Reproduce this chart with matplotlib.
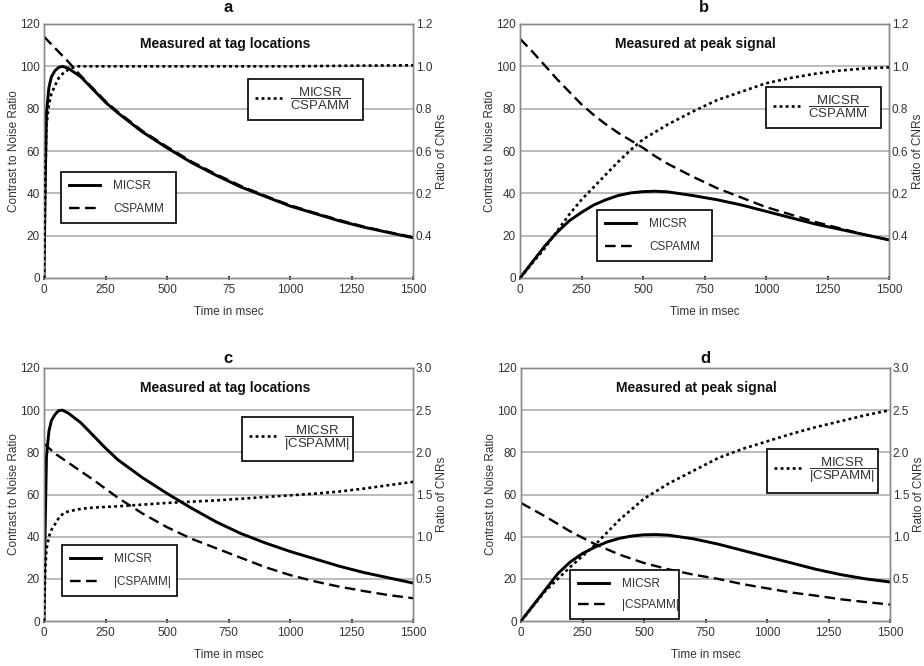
import matplotlib
matplotlib.use("Agg")
import matplotlib.pyplot as plt
from matplotlib.lines import Line2D

plt.rcParams['font.family'] = ['Liberation Sans', 'DejaVu Sans']
plt.rcParams['mathtext.fontset'] = 'custom'
plt.rcParams['mathtext.rm'] = 'Liberation Sans'
plt.rcParams['mathtext.it'] = 'Liberation Sans'
plt.rcParams['mathtext.bf'] = 'Liberation Sans:bold'

# ---------------- data ----------------
# Panel a: measured at tag locations
t_micsr_a = [0, 5, 10, 20, 30, 45, 60, 75, 100, 150, 200, 250, 300, 400, 500, 600, 700, 800, 900, 1000, 1100, 1200, 1300, 1400, 1500]
micsr_a = [0, 45, 78, 90, 95, 98, 99.5, 100, 99, 95, 89, 83, 78, 69, 61.5, 54.5, 48.5, 43, 38.5, 34, 30.5, 27, 24, 21.5, 19]
t_cspamm_a = [0, 50, 100, 146, 200, 250, 300, 400, 500, 600, 700, 800, 900, 1000, 1100, 1200, 1300, 1400, 1500]
cspamm_a = [114, 108, 102, 96, 89.5, 83.5, 78.5, 69.5, 62, 55, 49, 43.5, 38.8, 34.4, 30.8, 27.4, 24.3, 21.7, 19.3]
t_ratio_a = [0, 5, 10, 20, 30, 45, 60, 80, 100, 130, 250, 500, 750, 1000, 1250, 1500]
ratio_a = [0, 0.45, 0.72, 0.82, 0.87, 0.91, 0.945, 0.97, 0.985, 1.0, 1.0, 1.0, 1.0, 1.0, 1.003, 1.005]

# Panel b: measured at peak signal
t_b = [0, 50, 100, 150, 200, 250, 300, 350, 400, 450, 500, 550, 600, 700, 800, 900, 1000, 1100, 1200, 1300, 1400, 1500]
micsr_b = [0, 7.5, 15, 21.5, 27, 31, 34.5, 37, 39, 40.2, 40.8, 41, 40.7, 39, 37, 34.5, 31.5, 28.5, 25.5, 23, 20.5, 18]
cspamm_b = [113, 107, 100.5, 94, 88, 82, 77, 72.5, 68.5, 65, 61.5, 57.5, 54, 48, 42.5, 38, 33.5, 30, 26.5, 23.5, 20.5, 18]
ratio_b = [0, 0.07, 0.14, 0.22, 0.3, 0.37, 0.43, 0.49, 0.55, 0.605, 0.655, 0.69, 0.725, 0.785, 0.84, 0.88, 0.92, 0.945, 0.965, 0.98, 0.99, 0.995]

# Panel c: measured at tag locations (magnitude)
micsr_c = [0, 45, 78, 90, 95, 98, 99.8, 100, 98.5, 94, 88, 82, 76.5, 68, 60.5, 53.5, 47, 41.5, 37, 33, 29.5, 26, 23, 20.5, 18]
t_cspamm_c = [0, 50, 100, 200, 300, 400, 500, 600, 700, 800, 900, 1000, 1100, 1200, 1300, 1400, 1500]
cspamm_c = [84, 79, 75, 67, 58.5, 51, 44.5, 39, 34.5, 30, 25.5, 21.8, 18.8, 16.3, 14.2, 12.3, 10.8]
t_ratio_c = [0, 5, 10, 20, 30, 45, 60, 80, 100, 150, 200, 300, 400, 500, 600, 700, 800, 900, 1000, 1100, 1200, 1300, 1400, 1500]
ratio_c = [0, 0.6, 0.85, 1.0, 1.08, 1.15, 1.22, 1.28, 1.3, 1.33, 1.345, 1.36, 1.38, 1.4, 1.415, 1.43, 1.45, 1.47, 1.49, 1.51, 1.535, 1.57, 1.61, 1.65]

# Panel d: measured at peak signal (magnitude)
micsr_d = [0, 7.5, 15, 22.5, 28, 32, 35, 37.5, 39.2, 40.3, 40.9, 41, 40.7, 39, 36.5, 33.5, 30.5, 27.5, 24.5, 22, 20, 18.5]
t_cspamm_d = [0, 100, 200, 250, 300, 400, 500, 600, 700, 800, 900, 1000, 1100, 1200, 1300, 1400, 1500]
cspamm_d = [56, 49.5, 42.5, 39.5, 36.5, 31.5, 27.5, 24.5, 22, 20, 17.5, 15.5, 13.5, 12, 10.3, 9, 7.8]
t_ratio_d = [0, 100, 200, 300, 400, 500, 600, 700, 800, 900, 1000, 1100, 1200, 1300, 1400, 1500]
ratio_d = [0, 0.36, 0.64, 0.9, 1.2, 1.45, 1.63, 1.78, 1.93, 2.04, 2.13, 2.22, 2.3, 2.37, 2.44, 2.5]

x_ticks = [0, 250, 500, 750, 1000, 1250, 1500]
x_labels_a = ["0", "250", "500", "75", "1000", "1250", "1500"]
x_labels = ["0", "250", "500", "750", "1000", "1250", "1500"]
left_ticks = [0, 20, 40, 60, 80, 100, 120]
right_ticks_ab = [0.2, 0.4, 0.6, 0.8, 1.0, 1.2]
right_labels_ab = ["0.4", "0.2", "0.6", "0.8", "1.0", "1.2"]
right_ticks_cd = [0.5, 1.0, 1.5, 2.0, 2.5, 3.0]
right_labels_cd = ["0.5", "1.0", "1.5", "2.0", "2.5", "3.0"]

panel_letters = ["a", "b", "c", "d"]
inner_titles = ["Measured at tag locations", "Measured at peak signal",
                "Measured at tag locations", "Measured at peak signal"]
ratio_labels = [r"$\dfrac{\mathrm{MICSR}}{\mathrm{CSPAMM}}$", r"$\dfrac{\mathrm{MICSR}}{\mathrm{CSPAMM}}$",
                r"$\dfrac{\mathrm{MICSR}}{|\mathrm{CSPAMM}|}$", r"$\dfrac{\mathrm{MICSR}}{|\mathrm{CSPAMM}|}$"]
cspamm_labels = ["CSPAMM", "CSPAMM", "|CSPAMM|", "|CSPAMM|"]

# ---------------- layout ----------------
fig = plt.figure(figsize=(9.24, 6.66), dpi=100)
positions = [
    [44 / 924, 1 - 278 / 666, 369 / 924, 254 / 666],
    [520 / 924, 1 - 278 / 666, 369 / 924, 254 / 666],
    [44 / 924, 1 - 621 / 666, 369 / 924, 253 / 666],
    [521 / 924, 1 - 621 / 666, 369 / 924, 253 / 666],
]
letter_y = [1 + 12 / 254, 1 + 12 / 254, 1 + 5 / 253, 1 + 5 / 253]
title_x = [0.49, 0.474, 0.49, 0.474]
legend_left = [(0.046, 0.417), (0.209, 0.268), (0.049, 0.300), (0.133, 0.202)]
legend_left_w = [0.312, 0.311, 0.311, 0.295]
legend_left_sp = [0.9, 0.9, 0.9, 0.75]
legend_right = [(0.553, 0.783), (0.667, 0.752), (0.537, 0.806), (0.667, 0.680)]
legend_right_w = [0.311, 0.311, 0.300, 0.300]

series = [
    (t_micsr_a, micsr_a, t_cspamm_a, cspamm_a, t_ratio_a, ratio_a, 1.2),
    (t_b, micsr_b, t_b, cspamm_b, t_b, ratio_b, 1.2),
    (t_micsr_a, micsr_c, t_cspamm_c, cspamm_c, t_ratio_c, ratio_c, 3.0),
    (t_b, micsr_d, t_cspamm_d, cspamm_d, t_ratio_d, ratio_d, 3.0),
]

GRID = "#a8a8a8"
SPINE = "#888888"
TXT = "#333333"

for i in range(4):
    tm, m, tc, c, tr, r, rmax = series[i]
    ax = fig.add_axes(positions[i])
    ax2 = ax.twinx()
    ax.set_zorder(1)
    ax2.set_zorder(2)
    ax.set_xlim(0, 1500)
    ax.set_ylim(0, 120)
    ax2.set_ylim(0, rmax)

    for yv in [20, 40, 60, 80, 100]:
        ax.axhline(yv, color=GRID, lw=1.1, zorder=0)

    ax.plot(tm, m, color="black", lw=2.1, solid_capstyle="butt", zorder=3)
    ax.plot(tc, c, color="black", lw=1.7, dashes=(4.5, 2.3), zorder=3)
    ax2.plot(tr, r, color="black", lw=1.9, dashes=(1.1, 1.2), zorder=3)

    ax.set_xticks(x_ticks)
    ax.set_xticklabels(x_labels_a if i == 0 else x_labels)
    ax.set_yticks(left_ticks)
    if i < 2:
        ax2.set_yticks(right_ticks_ab)
        ax2.set_yticklabels(right_labels_ab)
    else:
        ax2.set_yticks(right_ticks_cd)
        ax2.set_yticklabels(right_labels_cd)

    ax.tick_params(axis="x", direction="inout", length=3, width=1.3, color="#222222",
                   labelsize=8.5, labelcolor=TXT, pad=3)
    ax.tick_params(axis="y", length=0, labelsize=8.5, labelcolor=TXT, pad=3)
    ax2.tick_params(axis="y", length=0, labelsize=8.5, labelcolor=TXT, pad=2)

    for axx in (ax, ax2):
        for s in axx.spines.values():
            s.set_color(SPINE)
            s.set_linewidth(1.0)

    ax.set_xlabel("Time in msec", fontsize=8.5, color=TXT)
    ax.xaxis.set_label_coords(0.5, -0.11)
    ax.set_ylabel("Contrast to Noise Ratio", fontsize=8.5, color=TXT)
    ax.yaxis.set_label_coords(-0.066, 0.5)
    ax2.set_ylabel("Ratio of CNRs", fontsize=8.5, color=TXT, rotation=90)
    ax2.yaxis.set_label_coords(1.063, 0.5)

    ax.text(0.5, letter_y[i], panel_letters[i], transform=ax.transAxes, ha="center",
            va="baseline", fontsize=12, fontweight="bold", color="#111111")
    ax2.text(title_x[i], 0.921, inner_titles[i], transform=ax.transAxes, ha="center", va="center",
             fontsize=10, fontweight="bold", color="#111111")

    h1 = Line2D([], [], color="black", lw=2.1)
    h2 = Line2D([], [], color="black", lw=1.7, dashes=(4.5, 2.3))
    x0, y0 = legend_left[i]
    leg1 = ax2.legend([h1, h2], ["MICSR", cspamm_labels[i]], loc="upper left",
                      bbox_to_anchor=(x0, y0, legend_left_w[i], 0.0), mode="expand",
                      bbox_transform=ax.transAxes, fontsize=8.5, frameon=True, fancybox=False,
                      edgecolor="black", framealpha=1, handlelength=2.6, handletextpad=1.1,
                      borderpad=0.7, labelspacing=legend_left_sp[i], borderaxespad=0)
    leg1.get_frame().set_linewidth(1.2)
    for tx in leg1.get_texts():
        tx.set_color(TXT)
    ax2.add_artist(leg1)

    h3 = Line2D([], [], color="black", lw=1.9, dashes=(1.1, 1.2))
    x0, y0 = legend_right[i]
    leg2 = ax2.legend([h3], [ratio_labels[i]], loc="upper left",
                      bbox_to_anchor=(x0, y0, legend_right_w[i], 0.0), mode="expand",
                      bbox_transform=ax.transAxes, fontsize=9.5, frameon=True, fancybox=False,
                      edgecolor="black", framealpha=1, handlelength=2.0, handletextpad=0.6,
                      borderpad=0.55, borderaxespad=0)
    leg2.get_frame().set_linewidth(1.2)
    for tx in leg2.get_texts():
        tx.set_color(TXT)

fig.savefig("out.png", dpi=100)
